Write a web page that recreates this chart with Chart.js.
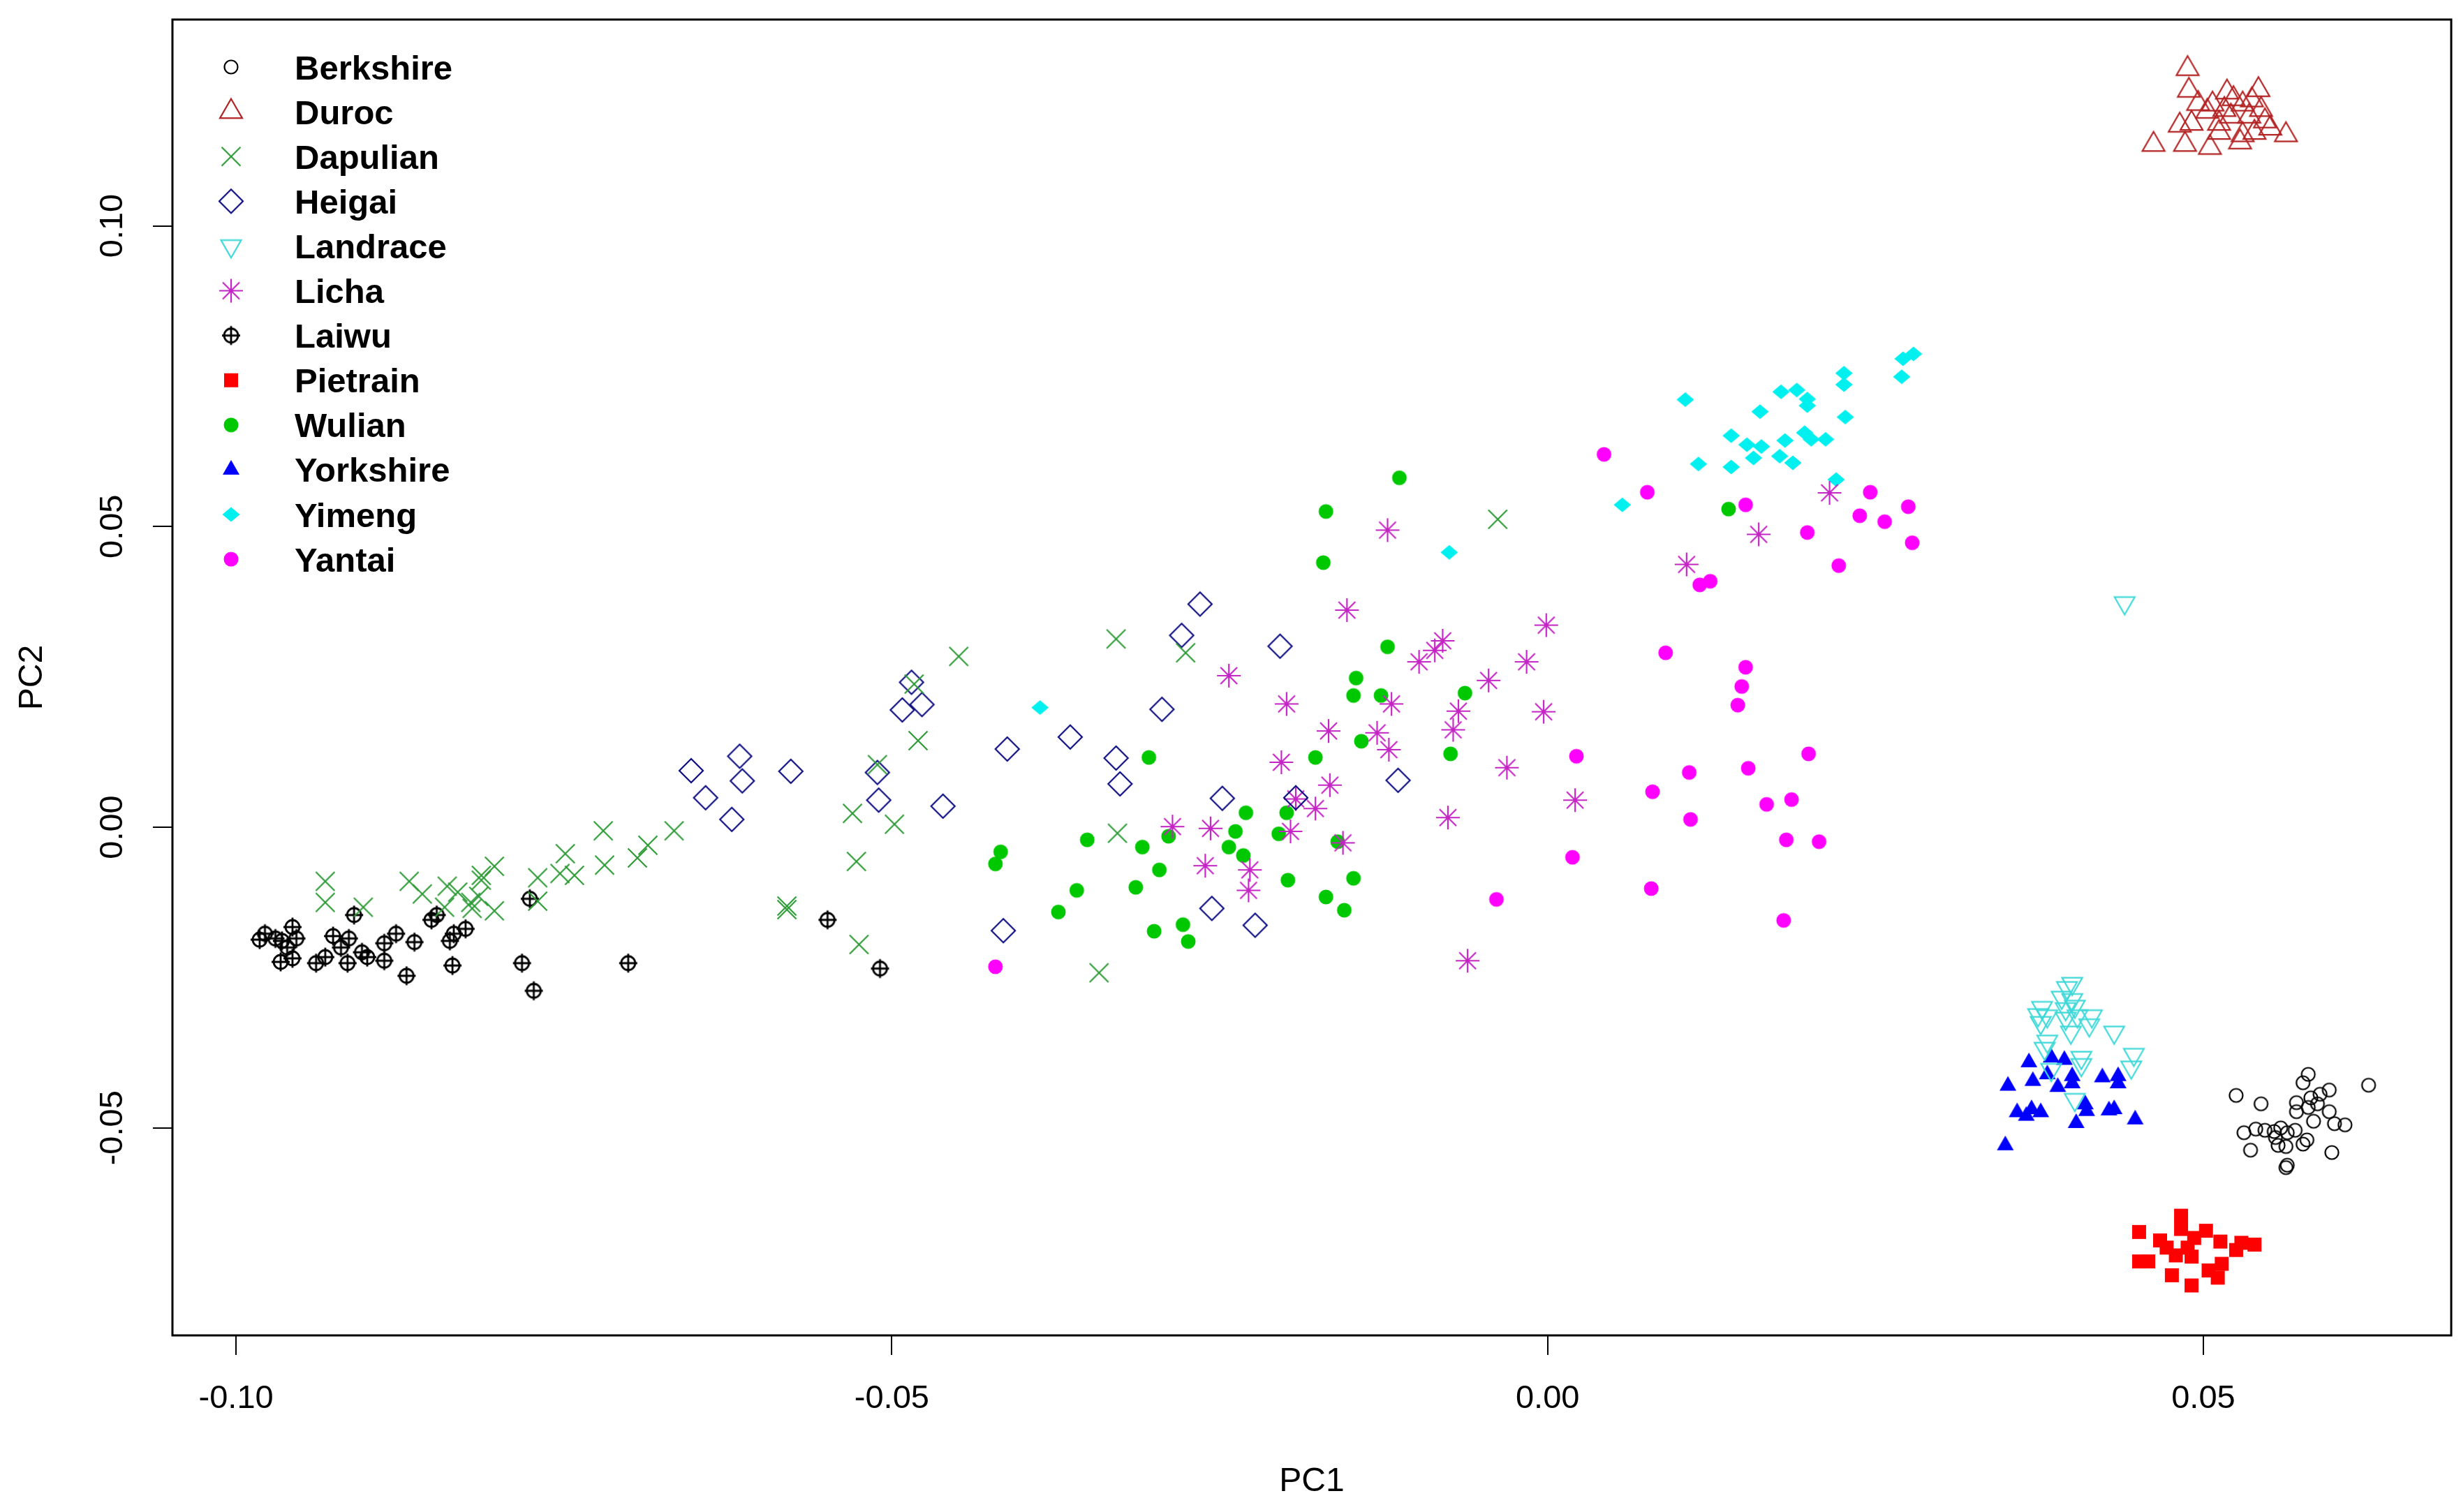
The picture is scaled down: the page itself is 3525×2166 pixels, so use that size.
<!DOCTYPE html>
<html>
<head>
<meta charset="utf-8">
<script src="https://cdn.jsdelivr.net/npm/chart.js@4.4.1/dist/chart.umd.min.js"></script>
<style>
  html, body { margin: 0; padding: 0; background: #fff; }
</style>
</head>
<body>
<canvas id="js-pca-chart" width="3525" height="2166"></canvas>
<script>
// PC1 / PC2 pairs, one array per breed
var berkshire = [[0.0580,-0.0411],[0.0576,-0.0425],[0.0626,-0.0429],[0.0525,-0.0446],[0.0544,-0.0460],[0.0596,-0.0437],[0.0589,-0.0444],[0.0582,-0.0450],[0.0571,-0.0458],[0.0571,-0.0473],[0.0580,-0.0466],[0.0587,-0.0460],[0.0596,-0.0473],[0.0584,-0.0489],[0.0600,-0.0493],[0.0608,-0.0495],[0.0531,-0.0508],[0.0540,-0.0502],[0.0547,-0.0504],[0.0554,-0.0506],[0.0559,-0.0500],[0.0564,-0.0508],[0.0555,-0.0516],[0.0557,-0.0529],[0.0563,-0.0531],[0.0570,-0.0504],[0.0576,-0.0527],[0.0579,-0.0520],[0.0536,-0.0537],[0.0598,-0.0541],[0.0564,-0.0562],[0.0563,-0.0566]]
var duroc = [[0.0488,0.1261],[0.0489,0.1225],[0.0462,0.1135],[0.0486,0.1135],[0.0505,0.1130],[0.0528,0.1139],[0.0563,0.1151],[0.0542,0.1226],[0.0518,0.1222],[0.0496,0.1203],[0.0507,0.1202],[0.0523,0.1211],[0.0530,0.1202],[0.0537,0.1209],[0.0544,0.1193],[0.0482,0.1167],[0.0491,0.1170],[0.0512,0.1170],[0.0521,0.1182],[0.0535,0.1182],[0.0547,0.1174],[0.0539,0.1155],[0.0551,0.1162],[0.0512,0.1155],[0.0503,0.1190],[0.0516,0.1193],[0.0530,0.1151]]
var dapulian = [[-0.0932,-0.0090],[-0.0932,-0.0125],[-0.0903,-0.0133],[-0.0868,-0.0090],[-0.0858,-0.0111],[-0.0839,-0.0098],[-0.0841,-0.0133],[-0.0831,-0.0108],[-0.0821,-0.0125],[-0.0820,-0.0135],[-0.0813,-0.0080],[-0.0813,-0.0088],[-0.0803,-0.0065],[-0.0803,-0.0139],[-0.0815,-0.0115],[-0.0770,-0.0084],[-0.0770,-0.0123],[-0.0753,-0.0077],[-0.0742,-0.0080],[-0.0749,-0.0044],[-0.0719,-0.0063],[-0.0694,-0.0051],[-0.0686,-0.0030],[-0.0720,-0.0006],[-0.0666,-0.0006],[-0.0580,-0.0131],[-0.0580,-0.0137],[-0.0527,-0.0057],[-0.0530,0.0023],[-0.0498,0.0005],[-0.0525,-0.0195],[-0.0511,0.0104],[-0.0480,0.0144],[-0.0449,0.0284],[-0.0483,0.0238],[-0.0329,0.0313],[-0.0276,0.0290],[-0.0328,-0.0010],[-0.0342,-0.0242],[-0.0038,0.0512]]
var heigai = [[-0.0653,0.0094],[-0.0616,0.0118],[-0.0614,0.0077],[-0.0642,0.0049],[-0.0622,0.0013],[-0.0577,0.0093],[-0.0511,0.0091],[-0.0510,0.0045],[-0.0461,0.0035],[-0.0485,0.0241],[-0.0492,0.0195],[-0.0477,0.0204],[-0.0412,0.0130],[-0.0364,0.0150],[-0.0415,-0.0172],[-0.0265,0.0371],[-0.0279,0.0319],[-0.0204,0.0301],[-0.0294,0.0196],[-0.0329,0.0115],[-0.0326,0.0072],[-0.0248,0.0048],[-0.0192,0.0049],[-0.0114,0.0078],[-0.0256,-0.0135],[-0.0223,-0.0163]]
var landrace = [[0.0400,-0.0260],[0.0396,-0.0267],[0.0392,-0.0283],[0.0400,-0.0287],[0.0377,-0.0300],[0.0374,-0.0312],[0.0381,-0.0314],[0.0376,-0.0325],[0.0395,-0.0302],[0.0402,-0.0298],[0.0395,-0.0318],[0.0404,-0.0314],[0.0415,-0.0314],[0.0413,-0.0329],[0.0399,-0.0341],[0.0432,-0.0341],[0.0381,-0.0356],[0.0379,-0.0368],[0.0407,-0.0383],[0.0407,-0.0395],[0.0447,-0.0378],[0.0445,-0.0399],[0.0402,-0.0453],[0.0384,-0.0403],[0.0440,0.0373]]
var licha = [[-0.0122,0.0494],[-0.0153,0.0361],[-0.0243,0.0252],[-0.0199,0.0205],[-0.0167,0.0160],[-0.0119,0.0205],[-0.0130,0.0157],[-0.0121,0.0129],[-0.0203,0.0108],[-0.0166,0.0070],[-0.0192,0.0047],[-0.0177,0.0031],[-0.0286,0.0001],[-0.0257,-0.0002],[-0.0196,-0.0007],[-0.0156,-0.0026],[-0.0261,-0.0064],[-0.0227,-0.0071],[-0.0228,-0.0105],[-0.0001,0.0336],[-0.0080,0.0310],[-0.0086,0.0294],[-0.0098,0.0275],[-0.0016,0.0275],[-0.0045,0.0244],[-0.0068,0.0193],[-0.0003,0.0192],[-0.0072,0.0162],[-0.0031,0.0099],[0.0021,0.0045],[-0.0076,0.0016],[-0.0061,-0.0222],[0.0215,0.0556],[0.0161,0.0487],[0.0106,0.0437]]
var laiwu = [[-0.0982,-0.0187],[-0.0978,-0.0177],[-0.0970,-0.0185],[-0.0965,-0.0189],[-0.0957,-0.0166],[-0.0954,-0.0185],[-0.0961,-0.0200],[-0.0966,-0.0224],[-0.0957,-0.0218],[-0.0939,-0.0226],[-0.0932,-0.0216],[-0.0926,-0.0181],[-0.0914,-0.0185],[-0.0920,-0.0200],[-0.0915,-0.0226],[-0.0904,-0.0208],[-0.0900,-0.0216],[-0.0910,-0.0146],[-0.0887,-0.0193],[-0.0878,-0.0177],[-0.0887,-0.0222],[-0.0864,-0.0191],[-0.0870,-0.0247],[-0.0851,-0.0154],[-0.0847,-0.0146],[-0.0837,-0.0189],[-0.0834,-0.0177],[-0.0825,-0.0169],[-0.0835,-0.0230],[-0.0782,-0.0226],[-0.0776,-0.0119],[-0.0773,-0.0272],[-0.0701,-0.0226],[-0.0549,-0.0154],[-0.0509,-0.0235]]
var pietrain = [[0.0451,-0.0673],[0.0451,-0.0722],[0.0458,-0.0722],[0.0467,-0.0687],[0.0472,-0.0699],[0.0483,-0.0646],[0.0483,-0.0668],[0.0479,-0.0712],[0.0476,-0.0745],[0.0491,-0.0762],[0.0493,-0.0683],[0.0502,-0.0671],[0.0491,-0.0714],[0.0504,-0.0737],[0.0511,-0.0749],[0.0513,-0.0689],[0.0514,-0.0726],[0.0525,-0.0703],[0.0529,-0.0691],[0.0539,-0.0694],[0.0488,-0.0699]]
var wulian = [[-0.0351,-0.0021],[-0.0417,-0.0041],[-0.0421,-0.0061],[-0.0359,-0.0105],[-0.0373,-0.0141],[-0.0113,0.0581],[-0.0169,0.0525],[-0.0171,0.0440],[-0.0122,0.0300],[-0.0146,0.0248],[-0.0148,0.0219],[-0.0127,0.0219],[-0.0142,0.0143],[-0.0177,0.0116],[-0.0304,0.0116],[-0.0230,0.0024],[-0.0199,0.0024],[-0.0238,-0.0007],[-0.0205,-0.0011],[-0.0243,-0.0033],[-0.0232,-0.0047],[-0.0289,-0.0015],[-0.0309,-0.0033],[-0.0296,-0.0071],[-0.0314,-0.0100],[-0.0160,-0.0024],[-0.0198,-0.0088],[-0.0148,-0.0085],[-0.0169,-0.0116],[-0.0155,-0.0138],[-0.0300,-0.0173],[-0.0278,-0.0162],[-0.0274,-0.0190],[-0.0063,0.0223],[-0.0074,0.0122],[0.0138,0.0529]]
var yorkshire = [[0.0367,-0.0391],[0.0351,-0.0430],[0.0370,-0.0422],[0.0381,-0.0411],[0.0384,-0.0383],[0.0394,-0.0387],[0.0389,-0.0432],[0.0400,-0.0414],[0.0400,-0.0426],[0.0423,-0.0416],[0.0435,-0.0414],[0.0435,-0.0426],[0.0358,-0.0474],[0.0369,-0.0469],[0.0376,-0.0474],[0.0365,-0.0480],[0.0410,-0.0461],[0.0411,-0.0472],[0.0403,-0.0492],[0.0428,-0.0471],[0.0448,-0.0486],[0.0349,-0.0529],[0.0432,-0.0469]]
var yimeng = [[0.0105,0.0711],[0.0162,0.0691],[0.0178,0.0724],[0.0190,0.0727],[0.0198,0.0712],[0.0198,0.0701],[0.0226,0.0755],[0.0226,0.0736],[0.0227,0.0682],[0.0271,0.0779],[0.0279,0.0787],[0.0270,0.0749],[0.0140,0.0651],[0.0152,0.0636],[0.0163,0.0633],[0.0181,0.0643],[0.0196,0.0656],[0.0201,0.0645],[0.0212,0.0645],[0.0157,0.0614],[0.0177,0.0617],[0.0187,0.0606],[0.0115,0.0604],[0.0140,0.0599],[0.0220,0.0578],[0.0057,0.0536],[-0.0387,0.0199],[-0.0075,0.0457]]
var yantai = [[0.0043,0.0620],[0.0076,0.0557],[0.0151,0.0536],[0.0198,0.0490],[0.0116,0.0403],[0.0124,0.0409],[0.0222,0.0435],[0.0246,0.0557],[0.0238,0.0518],[0.0257,0.0508],[0.0275,0.0533],[0.0278,0.0473],[0.0090,0.0290],[0.0151,0.0266],[0.0148,0.0234],[0.0145,0.0203],[0.0022,0.0118],[0.0108,0.0091],[0.0153,0.0098],[0.0199,0.0122],[0.0080,0.0059],[0.0109,0.0013],[0.0167,0.0038],[0.0186,0.0046],[0.0182,-0.0021],[0.0207,-0.0024],[0.0019,-0.0050],[0.0079,-0.0102],[0.0180,-0.0155],[-0.0039,-0.0120],[-0.0421,-0.0232]]

var breeds = ["Berkshire", "Duroc", "Dapulian", "Heigai", "Landrace", "Licha", "Laiwu", "Pietrain", "Wulian", "Yorkshire", "Yimeng", "Yantai"]
var series = [berkshire, duroc, dapulian, heigai, landrace, licha, laiwu, pietrain, wulian, yorkshire, yimeng, yantai]
var shapes = ["circle", "triangle", "cross", "diamond", "triangleDown", "asterisk", "circlePlus", "square", "dot", "triangleFilled", "diamondFilled", "dot"]
var colors = ["#000000", "#b22222", "#2e9a36", "#0a0a80", "#3fd8d8", "#c424c4", "#000000", "#ff0000", "#00c800", "#0000ff", "#00f0f0", "#ff00ff"]

var xTicks = [-0.10, -0.05, 0.00, 0.05]
var yTicks = [-0.05, 0.00, 0.05, 0.10]
var xRange = [-0.10485, 0.0689]
var yRange = [-0.0845, 0.1343]

var FONT = "'Liberation Sans', Arial, sans-serif"

// R-like plotting symbols drawn once on small canvases, used as point styles
function marker(shape, color) {
  var c = document.createElement("canvas")
  c.width = 44
  c.height = 44
  var g = c.getContext("2d")
  g.translate(22, 22)
  g.strokeStyle = color
  g.fillStyle = color
  g.lineWidth = 2.2
  g.beginPath()
  switch (shape) {
    case "circle":
      g.arc(0, 0, 9.5, 0, 2 * Math.PI); g.stroke(); break
    case "triangle":
      g.moveTo(0, -18.5); g.lineTo(16, 9.2); g.lineTo(-16, 9.2); g.closePath(); g.stroke(); break
    case "cross":
      g.moveTo(-13.5, -13.5); g.lineTo(13.5, 13.5); g.moveTo(13.5, -13.5); g.lineTo(-13.5, 13.5); g.stroke(); break
    case "diamond":
      g.moveTo(0, -17); g.lineTo(17, 0); g.lineTo(0, 17); g.lineTo(-17, 0); g.closePath(); g.stroke(); break
    case "triangleDown":
      g.moveTo(0, 16.7); g.lineTo(14.5, -8.4); g.lineTo(-14.5, -8.4); g.closePath(); g.stroke(); break
    case "asterisk":
      g.moveTo(-12, -12); g.lineTo(12, 12); g.moveTo(12, -12); g.lineTo(-12, 12)
      g.moveTo(-17, 0); g.lineTo(17, 0); g.moveTo(0, -17); g.lineTo(0, 17); g.stroke(); break
    case "circlePlus":
      g.lineWidth = 2.8
      g.arc(0, 0, 10, 0, 2 * Math.PI)
      g.moveTo(-13, 0); g.lineTo(13, 0); g.moveTo(0, -13.5); g.lineTo(0, 13.5); g.stroke(); break
    case "square":
      g.fillRect(-10, -10, 20, 20); break
    case "dot":
      g.arc(0, 0, 10.5, 0, 2 * Math.PI); g.fill(); break
    case "triangleFilled":
      g.moveTo(0, -13.9); g.lineTo(12, 6.9); g.lineTo(-12, 6.9); g.closePath(); g.fill(); break
    case "diamondFilled":
      g.moveTo(0, -10.5); g.lineTo(12.5, 0); g.lineTo(0, 10.5); g.lineTo(-12.5, 0); g.closePath(); g.fill(); break
  }
  return c
}

var markers = shapes.map(function (s, i) { return marker(s, colors[i]) })

var datasets = breeds.map(function (name, i) {
  return {
    label: name,
    data: series[i].map(function (p) { return { x: p[0], y: p[1] } }),
    pointStyle: markers[i],
    pointRadius: 10,
    borderColor: colors[i],
    backgroundColor: colors[i]
  }
})

// box, rotated y labels, x labels and the legend, drawn the R way
var rPlotPlugin = {
  id: "rPlot",
  afterDraw: function (chart) {
    var c = chart.ctx
    var a = chart.chartArea
    c.save()
    c.strokeStyle = "#000"
    c.lineWidth = 3
    c.strokeRect(a.left, a.top, a.right - a.left, a.bottom - a.top)

    c.fillStyle = "#000"
    c.font = "47px " + FONT
    c.textAlign = "center"
    c.textBaseline = "middle"
    chart.scales.x.ticks.forEach(function (t) {
      c.fillText(t.value.toFixed(2), chart.scales.x.getPixelForValue(t.value), 2004)
    })
    chart.scales.y.ticks.forEach(function (t) {
      c.save()
      c.translate(162, chart.scales.y.getPixelForValue(t.value))
      c.rotate(-Math.PI / 2)
      c.fillText(t.value.toFixed(2), 0, 0)
      c.restore()
    })

    c.font = "bold 49px " + FONT
    c.textAlign = "left"
    breeds.forEach(function (name, i) {
      var y = 96 + i * 64.1
      c.drawImage(markers[i], 331 - 22, y - 22)
      c.fillText(name, 422, y + 4)
    })
    c.restore()
  }
}

var ctx = document.getElementById("js-pca-chart")

var chart = new Chart(ctx, {
  type: "scatter",
  data: { datasets: datasets },
  options: {
    responsive: false,
    animation: false,
    events: [],
    layout: {
      padding: { top: 28, right: 14, bottom: 0, left: 0 }
    },
    plugins: {
      legend: { display: false },
      tooltip: { enabled: false }
    },
    scales: {
      x: {
        type: "linear",
        min: xRange[0],
        max: xRange[1],
        afterBuildTicks: function (s) { s.ticks = xTicks.map(function (v) { return { value: v } }) },
        afterFit: function (s) { s.height = 253 },
        grid: { drawOnChartArea: false, drawTicks: true, tickLength: 28, color: "#000", lineWidth: 2 },
        border: { display: false },
        ticks: { display: false },
        title: {
          display: true,
          text: "PC1",
          color: "#000",
          font: { family: FONT, size: 48 },
          padding: { top: 0, bottom: 14 }
        }
      },
      y: {
        type: "linear",
        min: yRange[0],
        max: yRange[1],
        afterBuildTicks: function (s) { s.ticks = yTicks.map(function (v) { return { value: v } }) },
        afterFit: function (s) { s.width = 247 },
        grid: { drawOnChartArea: false, drawTicks: true, tickLength: 28, color: "#000", lineWidth: 2 },
        border: { display: false },
        ticks: { display: false },
        title: {
          display: true,
          text: "PC2",
          color: "#000",
          font: { family: FONT, size: 48 },
          padding: { top: 18, bottom: 0 }
        }
      }
    }
  },
  plugins: [rPlotPlugin]
})
</script>
</body>
</html>
